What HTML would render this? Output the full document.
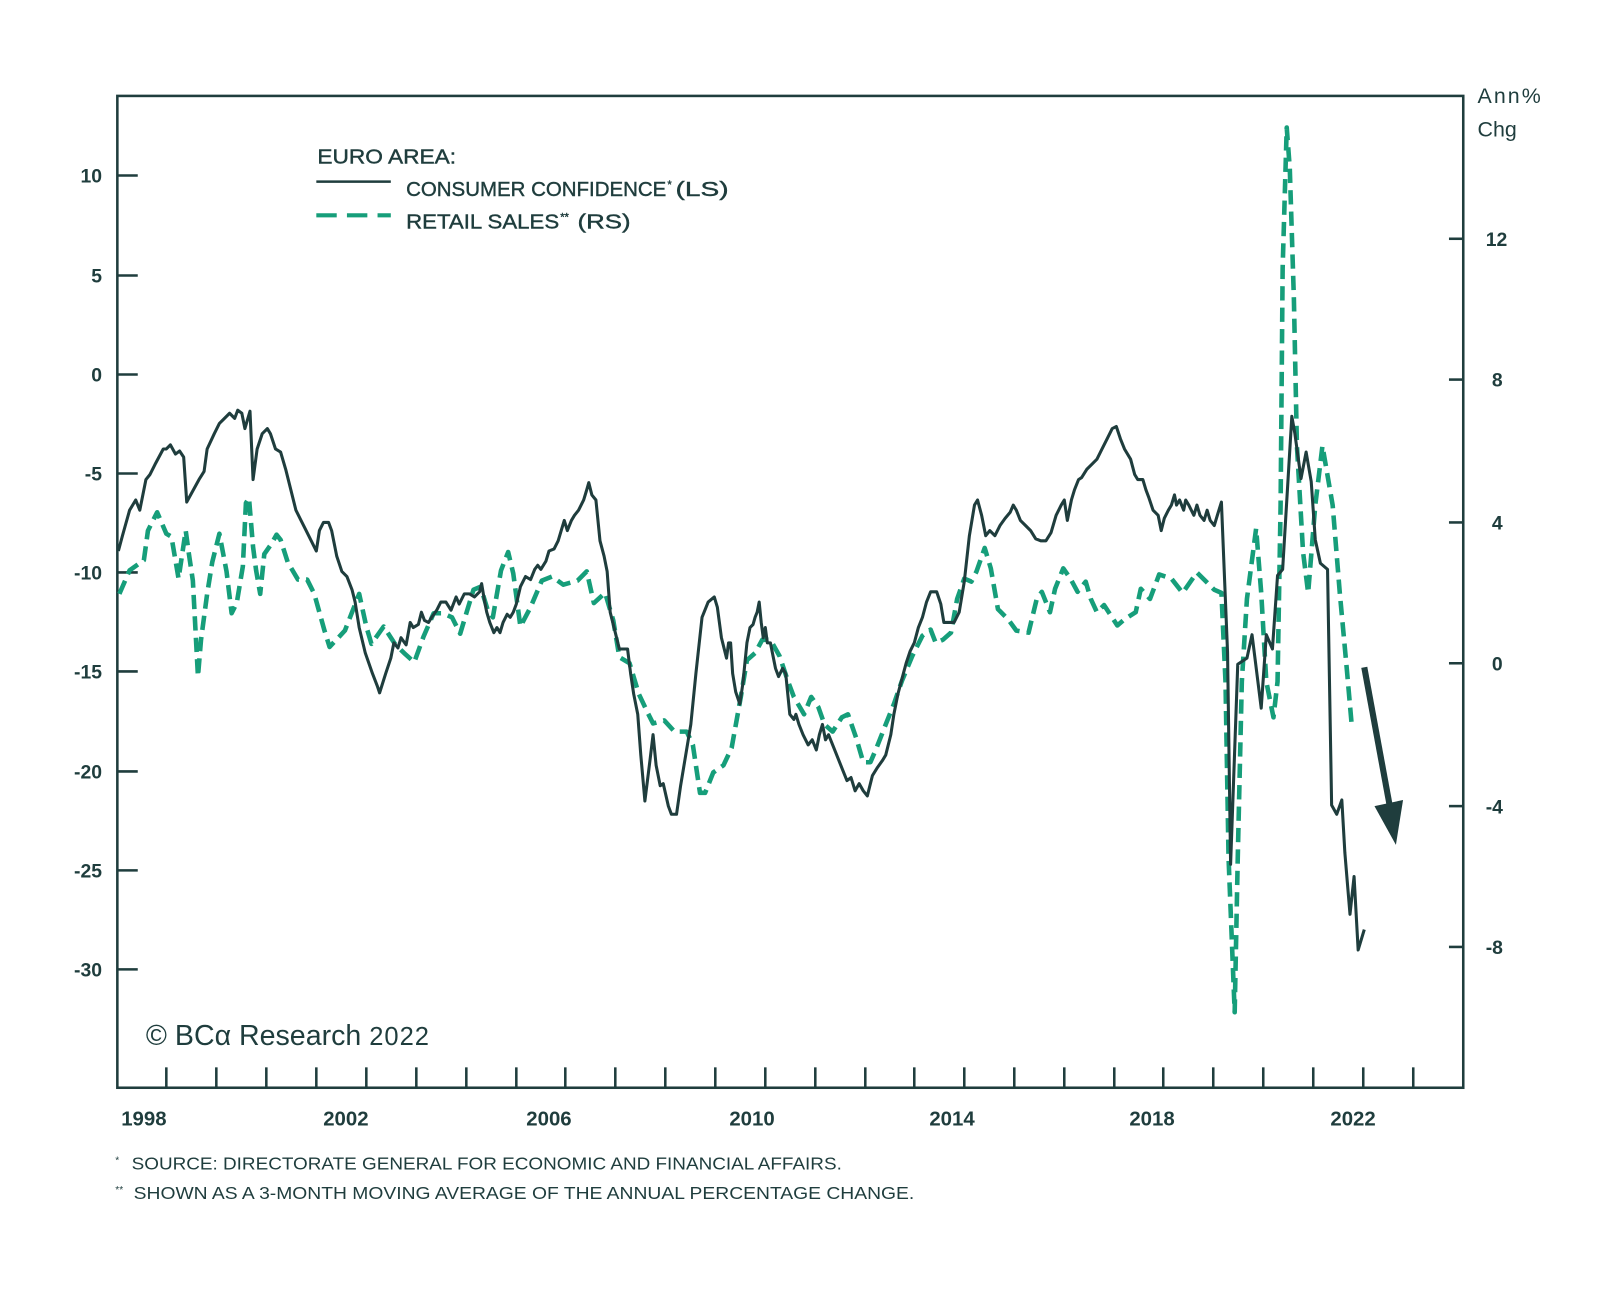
<!DOCTYPE html>
<html><head><meta charset="utf-8"><style>
body{margin:0;background:#fff;}
svg{display:block;}
text{font-family:"Liberation Sans",sans-serif;fill:#1f3d3d;}
</style></head><body>
<svg width="1600" height="1291" viewBox="0 0 1600 1291" xmlns="http://www.w3.org/2000/svg">
<g transform="scale(1.0204)">
<rect x="115" y="94" width="1319" height="972" fill="none" stroke="#1f3d3d" stroke-width="2.5"/>
<g stroke="#1f3d3d" stroke-width="2.5">
<line x1="115" y1="172" x2="135" y2="172"/><line x1="115" y1="270" x2="135" y2="270"/><line x1="115" y1="367" x2="135" y2="367"/><line x1="115" y1="464" x2="135" y2="464"/><line x1="115" y1="561" x2="135" y2="561"/><line x1="115" y1="658" x2="135" y2="658"/><line x1="115" y1="756" x2="135" y2="756"/><line x1="115" y1="853" x2="135" y2="853"/><line x1="115" y1="950" x2="135" y2="950"/>
<line x1="1420" y1="234" x2="1434" y2="234"/><line x1="1420" y1="372" x2="1434" y2="372"/><line x1="1420" y1="512" x2="1434" y2="512"/><line x1="1420" y1="650" x2="1434" y2="650"/><line x1="1420" y1="790" x2="1434" y2="790"/><line x1="1420" y1="928" x2="1434" y2="928"/>
</g>
<g stroke="#1f3d3d" stroke-width="2.5">
<line x1="163" y1="1046" x2="163" y2="1066"/><line x1="212" y1="1046" x2="212" y2="1066"/><line x1="261" y1="1046" x2="261" y2="1066"/><line x1="310" y1="1046" x2="310" y2="1066"/><line x1="359" y1="1046" x2="359" y2="1066"/><line x1="408" y1="1046" x2="408" y2="1066"/><line x1="457" y1="1046" x2="457" y2="1066"/><line x1="506" y1="1046" x2="506" y2="1066"/><line x1="554" y1="1046" x2="554" y2="1066"/><line x1="603" y1="1046" x2="603" y2="1066"/><line x1="652" y1="1046" x2="652" y2="1066"/><line x1="701" y1="1046" x2="701" y2="1066"/><line x1="750" y1="1046" x2="750" y2="1066"/><line x1="799" y1="1046" x2="799" y2="1066"/><line x1="848" y1="1046" x2="848" y2="1066"/><line x1="896" y1="1046" x2="896" y2="1066"/><line x1="945" y1="1046" x2="945" y2="1066"/><line x1="994" y1="1046" x2="994" y2="1066"/><line x1="1043" y1="1046" x2="1043" y2="1066"/><line x1="1092" y1="1046" x2="1092" y2="1066"/><line x1="1140" y1="1046" x2="1140" y2="1066"/><line x1="1189" y1="1046" x2="1189" y2="1066"/><line x1="1238" y1="1046" x2="1238" y2="1066"/><line x1="1287" y1="1046" x2="1287" y2="1066"/><line x1="1336" y1="1046" x2="1336" y2="1066"/><line x1="1385" y1="1046" x2="1385" y2="1066"/>
</g>
<g font-size="19" font-weight="bold" text-anchor="end">
<text x="100" y="179">10</text><text x="100" y="277">5</text><text x="100" y="374">0</text><text x="100" y="471">-5</text><text x="100" y="568">-10</text><text x="100" y="665">-15</text><text x="100" y="763">-20</text><text x="100" y="860">-25</text><text x="100" y="957">-30</text>
</g>
<g font-size="19" font-weight="bold">
<text x="1456" y="241">12</text><text x="1462" y="379">8</text><text x="1462" y="519">4</text><text x="1462" y="657">0</text><text x="1456" y="797">-4</text><text x="1456" y="935">-8</text>
<text x="1448" y="101" font-size="21" font-weight="normal" textLength="62">Ann%</text><text x="1448" y="134" font-size="21" font-weight="normal">Chg</text>
</g>
<g font-size="20" font-weight="bold" text-anchor="middle">
<text x="141" y="1103">1998</text><text x="339" y="1103">2002</text><text x="538" y="1103">2006</text><text x="737" y="1103">2010</text><text x="933" y="1103">2014</text><text x="1129" y="1103">2018</text><text x="1326" y="1103">2022</text>
</g>
<g font-size="20" stroke="#1f3d3d" stroke-width="0.4">
<text x="311" y="160" textLength="136" lengthAdjust="spacingAndGlyphs">EURO AREA:</text>
<text x="398" y="192" textLength="255" lengthAdjust="spacingAndGlyphs">CONSUMER CONFIDENCE</text>
<text x="654" y="184" font-size="11">*</text>
<text x="662" y="192" textLength="52" lengthAdjust="spacingAndGlyphs">(LS)</text>
<text x="398" y="224" textLength="150" lengthAdjust="spacingAndGlyphs">RETAIL SALES</text>
<text x="549" y="216" font-size="11">**</text>
<text x="566" y="224" textLength="52" lengthAdjust="spacingAndGlyphs">(RS)</text>
</g>
<line x1="310" y1="178" x2="383" y2="178" stroke="#1f3d3d" stroke-width="2.5"/>
<line x1="310" y1="211" x2="383" y2="211" stroke="#169e7a" stroke-width="4" stroke-dasharray="20,10"/>
<text x="143" y="1024" font-family="Liberation Serif,serif" font-size="28">© BCα Research <tspan font-family="Liberation Sans,sans-serif" font-size="25" letter-spacing="1">2022</tspan></text>
<g font-size="17">
<text x="113" y="1140" font-size="10">*</text>
<text x="129" y="1146" textLength="696" lengthAdjust="spacingAndGlyphs">SOURCE: DIRECTORATE GENERAL FOR ECONOMIC AND FINANCIAL AFFAIRS.</text>
<text x="113" y="1169" font-size="10">**</text>
<text x="131" y="1175" textLength="765" lengthAdjust="spacingAndGlyphs">SHOWN AS A 3-MONTH MOVING AVERAGE OF THE ANNUAL PERCENTAGE CHANGE.</text>
</g>
<polyline fill="none" stroke="#169e7a" stroke-width="4.5" stroke-dasharray="14,7" stroke-linejoin="round" points="117,582 127,559 141,549 145,520 154,502 163,523 168,526 175,567 182,520 185,542 189,569 194,663 197,627 203,582 208,551 215,523 222,560 227,601 232,591 238,555 241,493 244,488 248,536 251,559 255,582 259,543 266,533 271,524 275,529 282,551 292,568 301,568 308,582 318,618 323,634 338,618 352,582 359,614 364,631 376,614 387,631 396,640 406,649 415,624 425,601 434,601 443,605 451,621 457,601 464,578 471,575 478,598 483,605 491,559 498,541 503,562 510,614 520,595 531,569 541,565 552,573 566,569 575,560 582,591 593,581 601,608 607,644 617,650 626,680 635,699 640,709 651,706 661,717 673,717 679,730 686,777 691,777 699,757 709,750 717,733 726,683 732,647 740,640 747,627 755,627 764,643 772,667 778,683 788,700 795,683 802,693 808,710 816,717 825,703 831,700 839,723 846,747 853,747 859,733 868,710 876,690 884,667 894,643 904,623 912,617 917,630 924,627 932,620 938,587 945,567 952,570 957,560 965,537 971,557 978,597 988,607 996,618 1008,620 1016,587 1021,580 1029,600 1034,577 1042,557 1049,567 1056,580 1064,570 1069,587 1075,600 1082,593 1095,613 1102,607 1113,600 1118,577 1127,587 1136,563 1148,567 1159,581 1173,561 1190,578 1197,581 1201,668 1204,841 1210,992 1213,841 1217,668 1222,587 1231,518 1236,581 1241,668 1248,703 1252,668 1255,495 1257,263 1261,125 1264,165 1268,292 1271,437 1277,541 1282,581 1289,495 1296,437 1301,466 1306,495 1313,581 1320,657 1325,714"/>
<polyline fill="none" stroke="#1f3d3d" stroke-width="3" stroke-linejoin="round" points="116,540 120,525 127,500 133,490 137,500 143,470 147,465 152,455 160,440 163,440 167,436 172,445 176,442 180,448 183,492 195,470 200,462 203,440 210,425 215,415 220,410 225,405 230,410 233,402 237,405 240,420 245,403 248,470 252,440 257,425 262,420 265,425 270,440 275,443 280,460 285,480 290,500 295,510 300,520 305,530 310,540 313,520 317,512 322,512 325,520 330,545 335,560 340,565 345,578 348,590 352,615 358,640 365,660 370,673 372,679 378,660 383,645 386,630 390,635 393,625 398,632 402,610 405,615 410,612 413,600 416,608 420,610 423,605 428,598 432,590 437,590 442,598 447,585 450,592 455,582 460,582 465,585 470,580 472,572 475,590 477,600 480,610 484,620 487,615 490,620 493,610 497,602 500,605 503,600 506,592 510,575 515,565 520,568 524,558 527,554 530,558 535,550 538,540 543,538 547,530 550,520 553,510 556,520 560,510 563,505 567,500 572,490 575,480 577,473 580,485 584,490 588,530 592,545 595,560 598,600 603,620 607,636 615,636 618,660 621,680 625,700 628,740 632,785 637,745 640,720 643,750 647,770 650,768 655,790 658,798 663,798 667,770 672,740 677,710 682,660 688,605 694,590 700,585 703,595 707,625 712,645 714,630 716,630 718,660 721,678 725,690 728,670 732,630 735,615 738,612 740,605 742,600 744,590 746,610 748,625 750,615 752,630 755,630 757,640 760,655 763,663 767,655 770,660 772,680 774,700 778,705 780,700 783,710 787,720 792,730 796,725 800,735 803,720 806,710 809,725 812,720 818,735 820,740 822,745 826,755 830,765 834,762 838,775 842,768 846,775 850,780 855,760 860,752 865,745 868,740 873,720 876,700 880,680 884,665 888,650 892,638 896,630 900,615 904,605 908,590 912,580 918,580 922,592 925,610 930,610 935,610 940,600 945,570 950,525 955,495 958,490 962,505 966,525 970,520 975,525 980,515 985,508 990,502 993,495 996,500 1000,510 1005,515 1010,520 1015,528 1020,530 1025,530 1030,522 1035,505 1040,495 1043,490 1046,510 1050,490 1053,480 1057,470 1060,468 1065,460 1070,455 1075,450 1080,440 1085,430 1090,420 1094,418 1098,430 1102,440 1108,450 1112,465 1115,470 1120,470 1123,480 1126,488 1130,500 1135,505 1138,520 1141,508 1145,500 1148,495 1151,485 1153,495 1156,490 1160,500 1162,490 1165,495 1170,505 1173,495 1176,505 1180,510 1183,500 1186,510 1190,515 1193,505 1197,492 1203,639 1206,847 1213,651 1222,645 1227,622 1236,694 1241,622 1247,636 1252,564 1257,558 1266,408 1269,425 1275,469 1280,443 1285,472 1289,529 1294,552 1301,558 1305,789 1310,798 1315,784 1318,836 1323,896 1327,859 1331,931 1337,911"/>
<line x1="1337" y1="654" x2="1362" y2="790" stroke="#1f3d3d" stroke-width="6"/>
<polygon points="1347,790 1375,784 1368,828" fill="#1f3d3d"/>
</g>
</svg>
</body></html>
